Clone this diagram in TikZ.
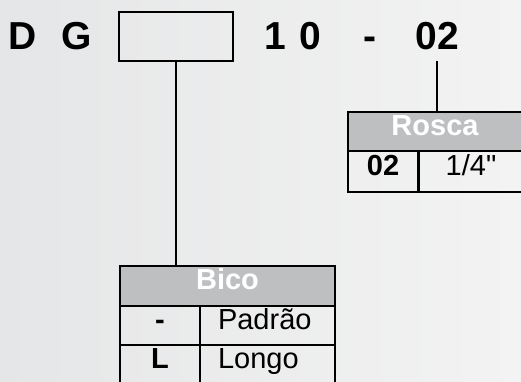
\documentclass[tikz,border=0pt]{standalone}
\usepackage{fontspec}
\setmainfont{Liberation Sans}[Ligatures=TeXOff]
\definecolor{headgray}{RGB}{190,191,193}
\definecolor{bgleft}{RGB}{229,230,231}
\definecolor{bgright}{RGB}{243,243,243}
\begin{document}
\begin{tikzpicture}[x=1pt,y=-1pt,
  codetxt/.style={font=\fontsize{39}{40}\selectfont\bfseries, anchor=base, inner sep=0pt},
  line/.style={draw=black, line width=2pt},
  head/.style={line, fill=headgray, text=white, font=\fontsize{29}{30}\selectfont\bfseries,
    inner sep=0pt, outer sep=0pt, text height=0.72em, text depth=0pt},
  cellc/.style={line, font=\fontsize{29}{30}\selectfont, inner sep=0pt, outer sep=0pt,
    text height=0.72em, text depth=0pt},
  celll/.style={line, font=\fontsize{29}{30}\selectfont, inner xsep=18pt, inner ysep=0pt,
    outer sep=0pt, text height=0.72em, text depth=0pt, align=left},
  bold/.style={font=\fontsize{29}{30}\selectfont\bfseries}
]
\useasboundingbox (0,0) rectangle (521,382);
\shade[left color=bgleft, right color=bgright] (0,0) rectangle (521,382);
\clip (0,0) rectangle (521,382);

% code line
\node[codetxt] (cD) at (23,50) {D};
\node[codetxt] (cG) at (77,50) {G};
\node[line, minimum width=114pt, minimum height=49pt, inner sep=0pt, outer sep=0pt] (box) at (176,36.5) {};
\node[codetxt] (c1) at (275,50) {1};
\node[codetxt] (c0) at (310,50) {0};
\node[codetxt] (cdash) at (370,50) {-};
\node[codetxt] (c02) at (437,50) {02};
\coordinate (t02) at (437,61);

% Rosca table
\node[head, minimum width=174pt, minimum height=39pt] (roscahead) at (435,131.5) {Rosca};
\node[cellc, bold, minimum width=70pt, minimum height=41pt] (r1a) at (383,171.5) {02};
\node[cellc, minimum width=104pt, minimum height=41pt] (r1b) at (471,171.5) {1/4"};

% Bico table
\node[head, minimum width=215pt, minimum height=40pt] (bicohead) at (227.5,286) {Bico};
\node[cellc, bold, minimum width=80pt, minimum height=39pt] (b1a) at (160,325.5) {-};
\node[celll, text width=99pt, minimum height=39pt] (b1b) at (267.5,325.5) {Padrão};
\node[cellc, bold, minimum width=80pt, minimum height=51pt, text depth=12pt] (b2a) at (160,370.5) {L};
\node[celll, text width=99pt, minimum height=51pt, text depth=12pt] (b2b) at (267.5,370.5) {Longo};

% connectors
\draw[line] (box.south) -- (box.south |- bicohead.north);
\draw[line] (t02) -- (t02 |- roscahead.north);
\end{tikzpicture}
\end{document}
